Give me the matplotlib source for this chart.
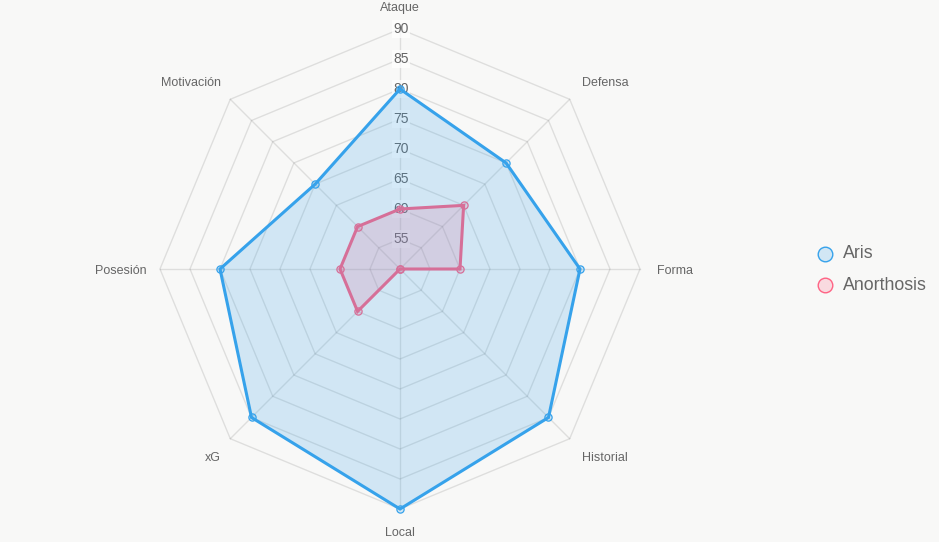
import numpy as np
import matplotlib.pyplot as plt
from matplotlib.colors import to_rgba

categories = ['Ataque', 'Defensa', 'Forma', 'Historial', 'Local', 'xG', 'Posesión', 'Motivación']
aris = [80, 75, 80, 85, 90, 85, 80, 70]
anorthosis = [60, 65, 60, 50, 50, 60, 60, 60]
tick_values = [55, 60, 65, 70, 75, 80, 85, 90]
series_names = ['Aris', 'Anorthosis']
series_colors = ['#36a2eb', '#ff6384']

r_min, r_max = 50, 90
radius_px = 240  # radius of the outer ring, in pixels

plt.rcParams['font.family'] = ['Liberation Sans', 'DejaVu Sans']

fig = plt.figure(figsize=(9.39, 5.42), dpi=100)
fig.patch.set_facecolor('#f8f8f7')
ax = fig.add_axes([0, 0, 1, 1])
ax.set_xlim(-400, 539)
ax.set_ylim(-273, 269)
ax.axis('off')

n = len(categories)
angles = np.arange(n) * 2 * np.pi / n


def to_xy(vals):
    r = (np.asarray(vals, float) - r_min) / (r_max - r_min) * radius_px
    return r * np.sin(angles), r * np.cos(angles)


# -- grid
grid_color = (0, 0, 0, 0.1)
for t in tick_values:
    gx, gy = to_xy([t] * n)
    ax.plot(np.append(gx, gx[0]), np.append(gy, gy[0]), color=grid_color, lw=1, zorder=1)
ox, oy = to_xy([r_max] * n)
for x, y in zip(ox, oy):
    ax.plot([0, x], [0, y], color=grid_color, lw=1, zorder=1)

# -- tick labels on the first spoke
for t in tick_values:
    tx, ty = to_xy([t] * n)
    ax.text(tx[0] + 1, ty[0], str(t), ha='center', va='center', fontsize=10, color='#666666',
            bbox=dict(boxstyle='square,pad=0.12', fc=(1, 1, 1, 0.75), ec='none'), zorder=2)

# -- point labels (left side sits a little closer to the ring horizontally)
for cat, a in zip(categories, angles):
    s, c = np.sin(a), np.cos(a)
    off_x = 17 if s > -0.01 else 13
    x, y = (radius_px + off_x) * s, (radius_px + 17) * c
    ha = 'center' if abs(x) < 1 else ('left' if x > 0 else 'right')
    va = 'center' if abs(y) < 1 else ('bottom' if y > 0 else 'top')
    ax.text(x, y - 1.5, cat, ha=ha, va=va, fontsize=9, color='#666666')

# -- datasets (second one drawn first, first one on top)
datasets = [aris, anorthosis]
for i in [1, 0]:
    vals = datasets[i]
    col = series_colors[i]
    x, y = to_xy(vals)
    xc, yc = np.append(x, x[0]), np.append(y, y[0])
    z = 3 + (1 - i) * 3
    ax.fill(xc, yc, color=to_rgba(col, 0.2), lw=0, zorder=z)
    ax.plot(xc, yc, color=col, lw=2.2, zorder=z + 1, solid_joinstyle='miter')
    ax.plot(x, y, 'o', ms=5.2, mfc=to_rgba(col, 0.2), mec=col, mew=0.9, zorder=z + 2)

# -- legend
for i, name in enumerate(series_names):
    col = series_colors[i]
    ly_i = 269 - 254 - i * 31
    ax.plot([425], [ly_i], 'o', ms=10.5, mfc=to_rgba(col, 0.2), mec=col, mew=1, clip_on=False)
    ax.text(443, ly_i, name, ha='left', va='center', fontsize=12.8, color='#666666')

fig.savefig('out.png', dpi=100, facecolor=fig.get_facecolor())
